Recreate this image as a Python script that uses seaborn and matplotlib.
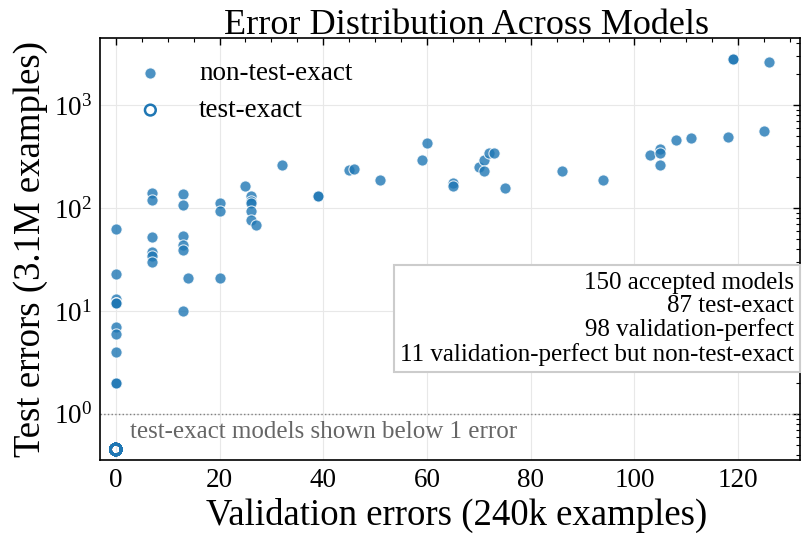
import matplotlib
matplotlib.use("Agg")
import matplotlib.pyplot as plt
import seaborn as sns
import pandas as pd
from matplotlib.ticker import MultipleLocator

sns.set_style("whitegrid")
plt.rcParams['font.family'] = ['Liberation Serif', 'DejaVu Serif']
plt.rcParams['mathtext.fontset'] = 'stix'
plt.rcParams['text.color'] = 'black'
plt.rcParams['axes.labelcolor'] = 'black'
plt.rcParams['xtick.color'] = 'black'
plt.rcParams['ytick.color'] = 'black'

# Non-test-exact models: validation errors vs test errors
val_errors = [0, 0, 0, 0, 0, 0, 0, 0, 0, 0, 0,
              7, 7, 7, 7, 7, 7,
              13, 13, 13, 13, 13, 13, 14,
              20, 20, 20,
              25, 26, 26, 26, 26, 26, 27,
              32, 39, 39, 45, 46, 51, 59, 60, 65, 65,
              70, 71, 71, 72, 73, 75, 86, 94,
              103, 105, 105, 105, 108, 111, 118, 125, 119, 119, 126]
test_errors = [62, 23, 13, 12, 12, 12, 7, 6, 4, 2, 2,
               140, 120, 52, 37, 34, 30,
               138, 108, 53, 44, 39, 10, 21,
               113, 93, 21,
               165, 131, 118, 111, 93, 76, 69,
               261, 132, 132, 234, 238, 186, 290, 430, 175, 165,
               250, 292, 229, 344, 340, 156, 229, 187,
               327, 372, 340, 261, 457, 475, 496, 556, 2800, 2800, 2614]

# Test-exact models (0 test errors), drawn below the 1-error line
n_test_exact = 87
exact_val = [0] * n_test_exact
exact_plot_y = [0.45] * n_test_exact

summary_lines = ["150 accepted models", "87 test-exact",
                 "98 validation-perfect", "11 validation-perfect but non-test-exact"]

df_fail = pd.DataFrame({'val': val_errors, 'test': test_errors})
df_exact = pd.DataFrame({'val': exact_val, 'test': exact_plot_y})

fig, ax = plt.subplots(figsize=(8.02, 5.35), dpi=100)
fig.subplots_adjust(left=0.125, right=0.998, top=0.929, bottom=0.140)

blue = '#1f77b4'
sns.scatterplot(x='val', y='test', data=df_fail, ax=ax, color=blue, alpha=0.8,
                s=65, edgecolor='white', linewidth=0.8, label='non-test-exact', zorder=3)
sns.scatterplot(x='val', y='test', data=df_exact, ax=ax, facecolors='none',
                edgecolor=blue, s=60, linewidth=1.8, label='test-exact', zorder=3)

ax.set_yscale('log')
ax.set_xlim(-3, 132)
ax.set_ylim(0.355, 4500)
ax.axhline(1, color='grey', linestyle=':', linewidth=1, zorder=2)
ax.text(2.7, 0.86, 'test-exact models shown below 1 error', color='#666666',
        fontsize=18, va='top', ha='left')

ax.text(0.991, 0.335, '\n'.join(summary_lines), transform=ax.transAxes,
        ha='right', va='center', fontsize=18, linespacing=1.08,
        bbox=dict(boxstyle='square,pad=0.25', facecolor='white', edgecolor='#cccccc', linewidth=1.5),
        multialignment='right')

ax.set_title('Error Distribution Across Models', fontsize=26, pad=3, x=0.523)
ax.set_xlabel('Validation errors (240k examples)', fontsize=26.5, labelpad=1)
ax.xaxis.set_label_coords(0.509, -0.09)
ax.set_ylabel('Test errors (3.1M examples)', fontsize=26.5, labelpad=4)

ax.xaxis.set_major_locator(MultipleLocator(20))
ax.xaxis.set_minor_locator(MultipleLocator(5))
ax.tick_params(which='both', direction='in', top=True, right=True, labelsize=19.5, pad=6)
ax.tick_params(which='major', length=5, width=1)
ax.tick_params(which='minor', length=3, width=0.8)
ax.grid(True, which='major', color='#e8e8e8', linewidth=0.8)
ax.grid(False, which='minor')
for sp in ax.spines.values():
    sp.set_color('black')
    sp.set_linewidth(1.2)

ax.legend(loc='upper left', frameon=False, fontsize=19.5, handletextpad=0.8,
          borderaxespad=0.45, labelspacing=0.45)

plt.savefig('out.png', dpi=100)
